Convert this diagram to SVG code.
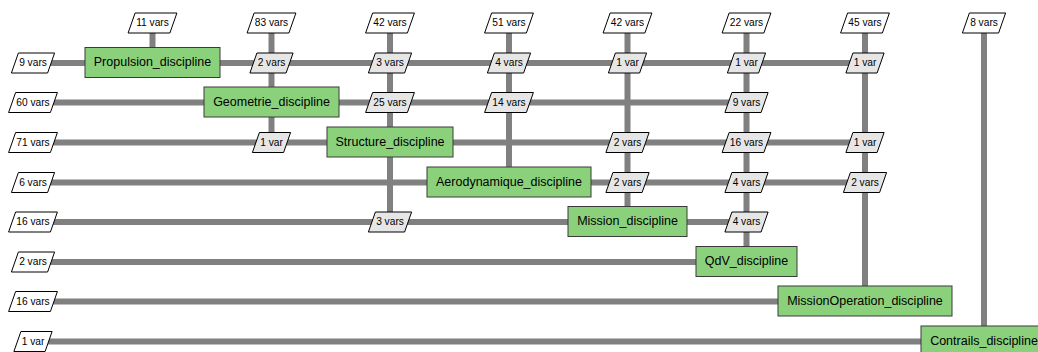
<svg xmlns="http://www.w3.org/2000/svg" xmlns:xlink="http://www.w3.org/1999/xlink" width="1038" height="352" viewBox="0 0 1038 352">
<style>
.ln{stroke:#808080;stroke-width:6;fill:none}
.node rect{fill:#8bd17c;stroke:#3a3a3a;stroke-width:1}
.node text{font-family:"Liberation Sans",Arial,sans-serif;font-size:12.5px;fill:#000;text-anchor:middle}
.io use{fill:#fff;stroke:#000;stroke-width:1}
.cp use{fill:#e6e6e6;stroke:#000;stroke-width:1}
.io text,.cp text{font-family:"Liberation Sans",Arial,sans-serif;font-size:10.2px;fill:#000;text-anchor:middle}
</style>
<defs>
<polygon id="p0" points="-12.1,-10 19.1,-10 12.1,10 -19.1,10"/>
<polygon id="p1" points="-14.6,-10 21.6,-10 14.6,10 -21.6,10"/>
<polygon id="p2" points="-17.4,-10 24.4,-10 17.4,10 -24.4,10"/>
</defs>
<rect width="1038" height="352" fill="#fff"/>
<g id="connectors">
<line class="ln" x1="33" y1="63" x2="865" y2="63"/>
<line class="ln" x1="33" y1="102.5" x2="746.5" y2="102.5"/>
<line class="ln" x1="33" y1="142.5" x2="865" y2="142.5"/>
<line class="ln" x1="33" y1="182.5" x2="865" y2="182.5"/>
<line class="ln" x1="33" y1="222" x2="746.5" y2="222"/>
<line class="ln" x1="33" y1="262" x2="746.5" y2="262"/>
<line class="ln" x1="33" y1="301.5" x2="865" y2="301.5"/>
<line class="ln" x1="33" y1="341.5" x2="984" y2="341.5"/>
<line class="ln" x1="152.5" y1="23" x2="152.5" y2="63"/>
<line class="ln" x1="271.5" y1="23" x2="271.5" y2="142.5"/>
<line class="ln" x1="390" y1="23" x2="390" y2="222"/>
<line class="ln" x1="509" y1="23" x2="509" y2="182.5"/>
<line class="ln" x1="627.5" y1="23" x2="627.5" y2="222"/>
<line class="ln" x1="746.5" y1="23" x2="746.5" y2="262"/>
<line class="ln" x1="865" y1="23" x2="865" y2="301.5"/>
<line class="ln" x1="984" y1="23" x2="984" y2="341.5"/>
</g>
<g id="inputs" class="io">
<g id="in-top-1"><use xlink:href="#p2" x="152.5" y="23"/><text x="152.5" y="26">11 vars</text></g>
<g id="in-top-2"><use xlink:href="#p2" x="271.5" y="23"/><text x="271.5" y="26">83 vars</text></g>
<g id="in-top-3"><use xlink:href="#p2" x="390" y="23"/><text x="390" y="26">42 vars</text></g>
<g id="in-top-4"><use xlink:href="#p2" x="509" y="23"/><text x="509" y="26">51 vars</text></g>
<g id="in-top-5"><use xlink:href="#p2" x="627.5" y="23"/><text x="627.5" y="26">42 vars</text></g>
<g id="in-top-6"><use xlink:href="#p2" x="746.5" y="23"/><text x="746.5" y="26">22 vars</text></g>
<g id="in-top-7"><use xlink:href="#p2" x="865" y="23"/><text x="865" y="26">45 vars</text></g>
<g id="in-top-8"><use xlink:href="#p1" x="984" y="23"/><text x="984" y="26">8 vars</text></g>
<g id="in-left-1"><use xlink:href="#p1" x="33" y="63"/><text x="33" y="66">9 vars</text></g>
<g id="in-left-2"><use xlink:href="#p2" x="33" y="102.5"/><text x="33" y="105.5">60 vars</text></g>
<g id="in-left-3"><use xlink:href="#p2" x="33" y="142.5"/><text x="33" y="145.5">71 vars</text></g>
<g id="in-left-4"><use xlink:href="#p1" x="33" y="182.5"/><text x="33" y="185.5">6 vars</text></g>
<g id="in-left-5"><use xlink:href="#p2" x="33" y="222"/><text x="33" y="225">16 vars</text></g>
<g id="in-left-6"><use xlink:href="#p1" x="33" y="262"/><text x="33" y="265">2 vars</text></g>
<g id="in-left-7"><use xlink:href="#p2" x="33" y="301.5"/><text x="33" y="304.5">16 vars</text></g>
<g id="in-left-8"><use xlink:href="#p0" x="33" y="341.5"/><text x="33" y="344.5">1 var</text></g>
</g>
<g id="couplings" class="cp">
<g id="c-1-2"><use xlink:href="#p1" x="271.5" y="63"/><text x="271.5" y="66">2 vars</text></g>
<g id="c-1-3"><use xlink:href="#p1" x="390" y="63"/><text x="390" y="66">3 vars</text></g>
<g id="c-1-4"><use xlink:href="#p1" x="509" y="63"/><text x="509" y="66">4 vars</text></g>
<g id="c-1-5"><use xlink:href="#p0" x="627.5" y="63"/><text x="627.5" y="66">1 var</text></g>
<g id="c-1-6"><use xlink:href="#p0" x="746.5" y="63"/><text x="746.5" y="66">1 var</text></g>
<g id="c-1-7"><use xlink:href="#p0" x="865" y="63"/><text x="865" y="66">1 var</text></g>
<g id="c-2-3"><use xlink:href="#p2" x="390" y="102.5"/><text x="390" y="105.5">25 vars</text></g>
<g id="c-2-4"><use xlink:href="#p2" x="509" y="102.5"/><text x="509" y="105.5">14 vars</text></g>
<g id="c-2-6"><use xlink:href="#p1" x="746.5" y="102.5"/><text x="746.5" y="105.5">9 vars</text></g>
<g id="c-3-2"><use xlink:href="#p0" x="271.5" y="142.5"/><text x="271.5" y="145.5">1 var</text></g>
<g id="c-3-5"><use xlink:href="#p1" x="627.5" y="142.5"/><text x="627.5" y="145.5">2 vars</text></g>
<g id="c-3-6"><use xlink:href="#p2" x="746.5" y="142.5"/><text x="746.5" y="145.5">16 vars</text></g>
<g id="c-3-7"><use xlink:href="#p0" x="865" y="142.5"/><text x="865" y="145.5">1 var</text></g>
<g id="c-4-5"><use xlink:href="#p1" x="627.5" y="182.5"/><text x="627.5" y="185.5">2 vars</text></g>
<g id="c-4-6"><use xlink:href="#p1" x="746.5" y="182.5"/><text x="746.5" y="185.5">4 vars</text></g>
<g id="c-4-7"><use xlink:href="#p1" x="865" y="182.5"/><text x="865" y="185.5">2 vars</text></g>
<g id="c-5-3"><use xlink:href="#p1" x="390" y="222"/><text x="390" y="225">3 vars</text></g>
<g id="c-5-6"><use xlink:href="#p1" x="746.5" y="222"/><text x="746.5" y="225">4 vars</text></g>
</g>
<g id="Propulsion_discipline" class="node"><rect x="85" y="47.5" width="135" height="30"/><text x="152.5" y="66">Propulsion_discipline</text></g>
<g id="Geometrie_discipline" class="node"><rect x="204" y="87" width="135" height="30"/><text x="271.5" y="105.5">Geometrie_discipline</text></g>
<g id="Structure_discipline" class="node"><rect x="327" y="127" width="126" height="30"/><text x="390" y="145.5">Structure_discipline</text></g>
<g id="Aerodynamique_discipline" class="node"><rect x="427" y="167" width="164" height="30"/><text x="509" y="185.5">Aerodynamique_discipline</text></g>
<g id="Mission_discipline" class="node"><rect x="568" y="206.5" width="119" height="30"/><text x="627.5" y="225">Mission_discipline</text></g>
<g id="QdV_discipline" class="node"><rect x="696" y="246.5" width="101" height="30"/><text x="746.5" y="265">QdV_discipline</text></g>
<g id="MissionOperation_discipline" class="node"><rect x="778" y="286" width="174" height="30"/><text x="865" y="304.5">MissionOperation_discipline</text></g>
<g id="Contrails_discipline" class="node"><rect x="921" y="326" width="126" height="30"/><text x="984" y="344.5">Contrails_discipline</text></g>
</svg>
